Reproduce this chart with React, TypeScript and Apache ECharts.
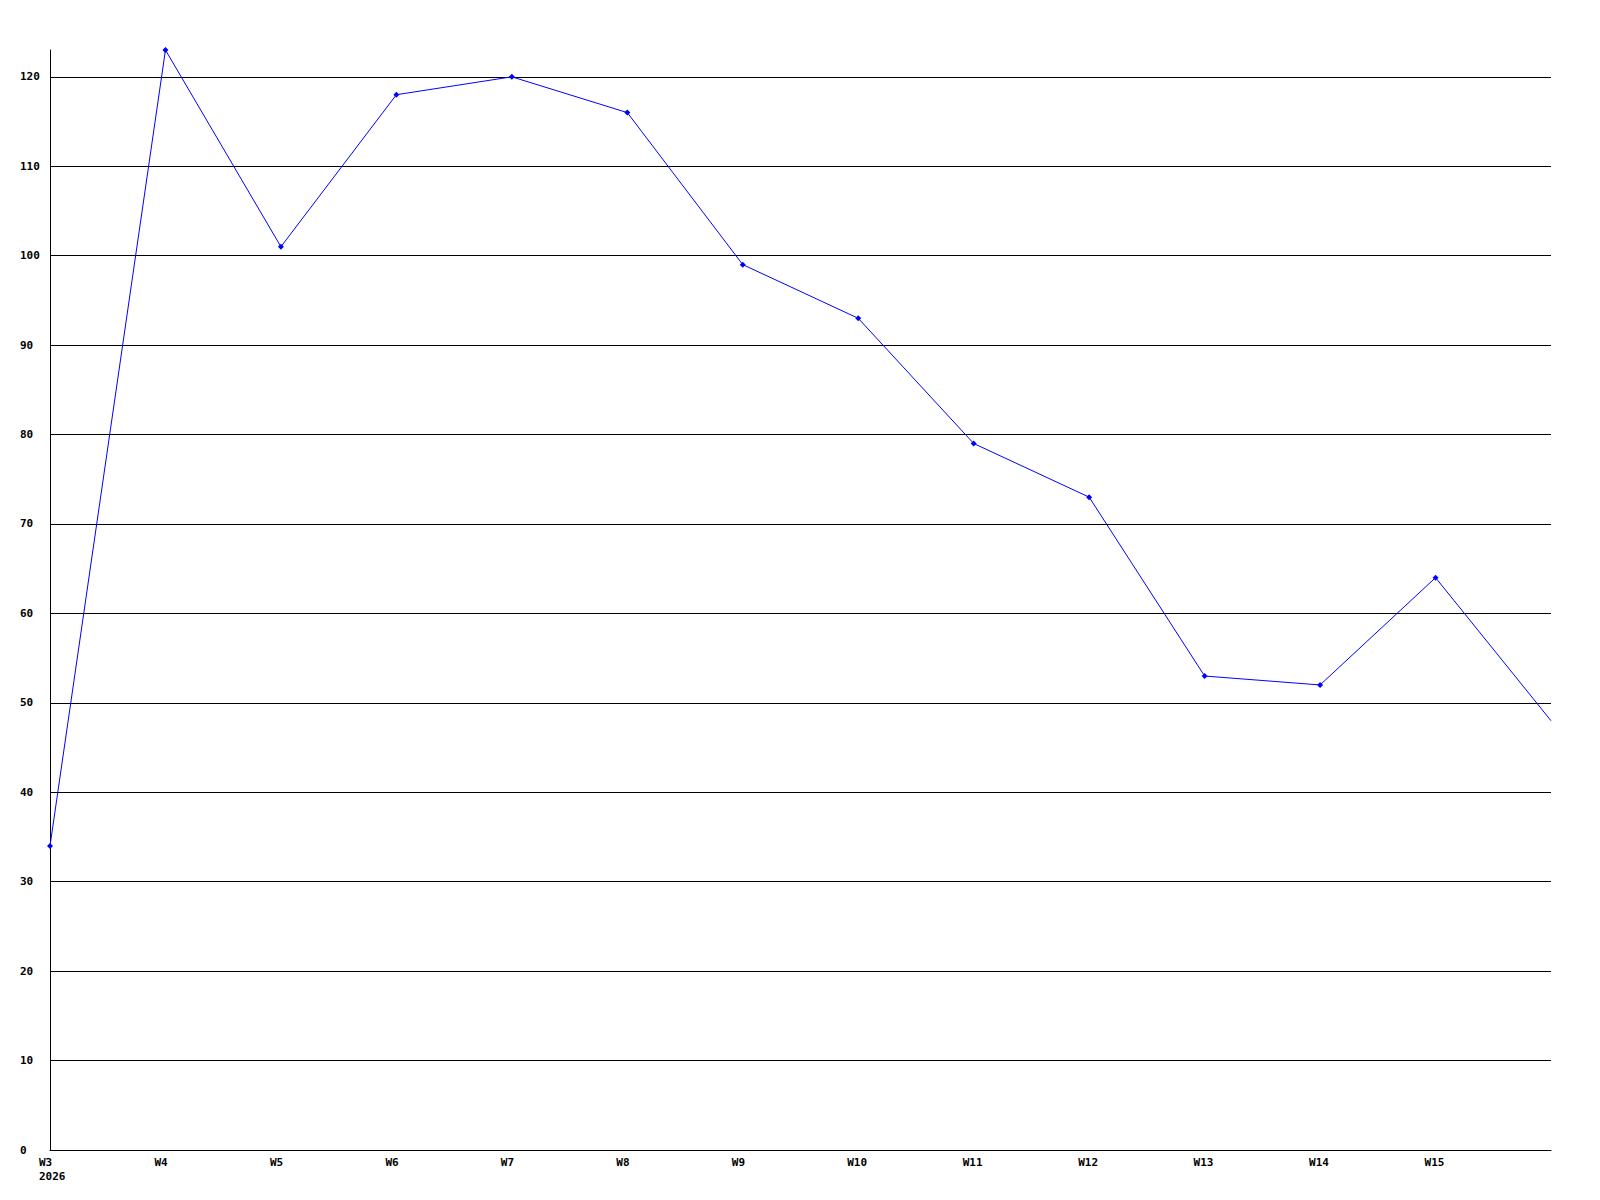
import React, { useEffect, useRef } from "react";
import * as echarts from "echarts";

const categories = ["W3", "W4", "W5", "W6", "W7", "W8", "W9", "W10", "W11", "W12", "W13", "W14", "W15", "W16"];
const values = [34, 123, 101, 118, 120, 116, 99, 93, 79, 73, 53, 52, 64, 48];
const yearLabel = "2026";
const yMin = 0;
const yMax = 123;
const yInterval = 10;

const FONT = "'DejaVu Sans Mono', 'Liberation Mono', monospace";

export default function App() {
  const ref = useRef<HTMLDivElement>(null);
  useEffect(() => {
    document.body.style.margin = "0";
    const chart = echarts.init(ref.current!, null, { renderer: "svg" });
    chart.setOption({
      animation: false,
      backgroundColor: "#ffffff",
      grid: { left: 50, right: 49, top: 50, bottom: 50, containLabel: false },
      xAxis: {
        type: "category",
        data: categories,
        boundaryGap: false,
        axisLine: { show: true, lineStyle: { color: "#000000", width: 1 } },
        axisTick: { show: false },
        splitLine: { show: false },
        axisLabel: {
          interval: 0,
          align: "left",
          margin: 5,
          padding: [0, 0, 0, -11],
          color: "#000000",
          fontFamily: FONT,
          fontWeight: "bold",
          fontSize: 11,
          lineHeight: 14,
          formatter: (v: string, i: number) =>
            i === 0 ? v + "\n" + yearLabel : i === categories.length - 1 ? "" : v,
        },
      },
      yAxis: {
        type: "value",
        min: yMin,
        max: yMax,
        interval: yInterval,
        axisLine: { show: true, lineStyle: { color: "#000000", width: 1 } },
        axisTick: { show: false },
        splitLine: { show: true, showMaxLine: false, lineStyle: { color: "#000000", width: 1 } },
        axisLabel: {
          showMaxLabel: false,
          align: "left",
          margin: 30,
          color: "#000000",
          fontFamily: FONT,
          fontWeight: "bold",
          fontSize: 11,
        },
      },
      series: [
        {
          type: "line",
          data: values.map((v, i) =>
            i === values.length - 1 ? { value: v, symbol: "none" } : v
          ),
          symbol: "diamond",
          symbolSize: 6,
          showAllSymbol: true,
          lineStyle: { color: "#0000ff", width: 1 },
          itemStyle: { color: "#0000ff" },
          clip: false,
        },
      ],
    });
    return () => chart.dispose();
  }, []);
  return <div ref={ref} style={{ width: 1600, height: 1200 }} />;
}
